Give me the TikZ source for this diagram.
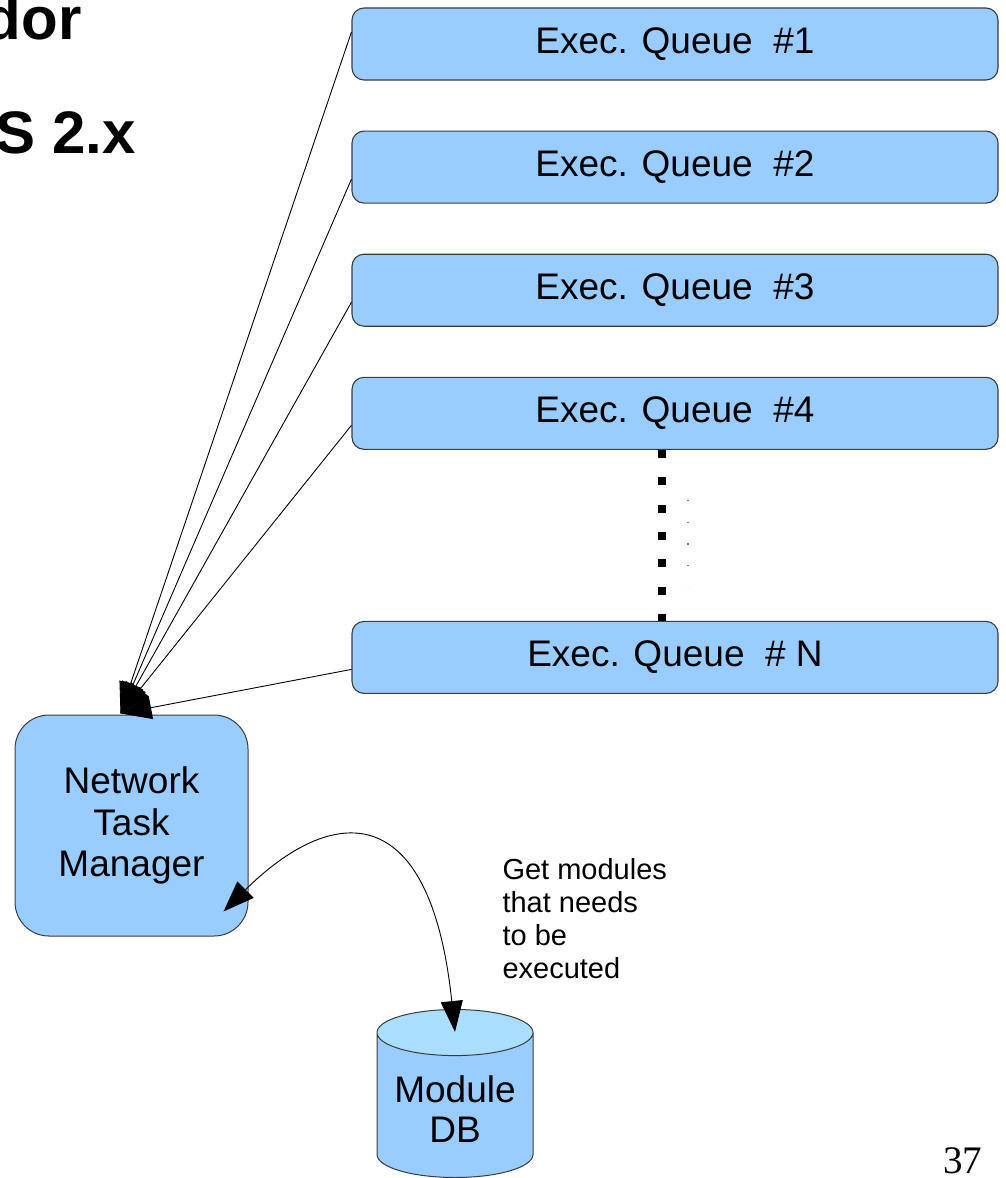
\documentclass[tikz,border=0pt]{standalone}
\usepackage{fontspec}
\setmainfont{Liberation Sans}
\newfontfamily\slidenumfont{Liberation Serif}
\usepackage{tikz}
\usetikzlibrary{shapes.geometric, arrows.meta, positioning, calc}
\usepackage{xcolor}
\definecolor{queueblue}{RGB}{153,204,255}
\definecolor{captop}{RGB}{170,222,255}
\definecolor{edgegray}{RGB}{60,60,60}
\tikzstyle{queue} = [rectangle, draw=edgegray, fill=queueblue, line width=1.1pt, rounded corners=12pt, minimum width=646pt, minimum height=72pt, font=\fontsize{37pt}{41pt}\selectfont]
\tikzstyle{manager} = [rectangle, draw=edgegray, fill=queueblue, line width=1pt, rounded corners=34pt, minimum width=233pt, minimum height=221pt, align=center, font=\fontsize{37pt}{41.5pt}\selectfont]
\tikzstyle{store} = [cylinder, shape border rotate=90, aspect=0.36, draw=edgegray, line width=1pt, cylinder uses custom fill, cylinder body fill=queueblue, cylinder end fill=captop, minimum width=156pt, minimum height=168pt, align=center, font=\fontsize{37pt}{40pt}\selectfont]
\tikzstyle{heading} = [anchor=base east, font=\fontsize{60pt}{64pt}\selectfont\bfseries]
\tikzstyle{arrow} = [-{Triangle[length=31pt, width=23pt]}, line width=0.9pt]
\tikzstyle{bothways} = [{Triangle[length=31pt, width=23pt]}-{Triangle[length=31pt, width=22pt]}, line width=0.9pt]

\begin{document}
\begin{tikzpicture}[x=1pt, y=-1pt]
  \useasboundingbox (0,0) rectangle (1005,1178);

  % heading, cut by the page edge
  \node[heading] (headA) at (85,39) {dor};
  \node[heading] (headB) at (139,153) {S 2.x};

  % execution queues
  \node[queue] (q1) at (675,44) {Exec. Queue\ \ \#1};
  \node[queue, below=50pt of q1] (q2) {Exec. Queue\ \ \#2};
  \node[queue, below=50pt of q2] (q3) {Exec. Queue\ \ \#3};
  \node[queue, below=50pt of q3] (q4) {Exec. Queue\ \ \#4};
  \node[queue, below=171pt of q4] (qN) {Exec. Queue\ \ \# N};

  \node[manager] (ntm) at (131.5,825.5) {Network\\Task\\Manager};
  \node[store, anchor=north] (db) at (455,1009) {Module\\DB};

  \node[anchor=north west, align=left, font=\fontsize{29pt}{33pt}\selectfont] (note) at (499,855)
    {Get modules\\that needs\\to be\\executed};

  \node[anchor=base east, font=\fontsize{39pt}{40pt}\selectfont\slidenumfont] (pnum) at (986,1173) {37};

  \coordinate (hub) at ($(ntm.north)+(-11,-1)$);

  % queues reporting to the manager
  \draw[arrow] ($(q1.west)+(0,-12)$) -- (hub);
  \foreach \q in {q2,q3,q4,qN}
    \draw[arrow] ($(\q.west)+(0,12)$) -- (hub);

  % gap between queue 4 and queue N
  \draw[line width=8pt, dash pattern=on 8pt off 19.33pt] ($(q4.south)+(-13,0)$) -- ($(qN.north)+(-13,0)$);
  \draw[line width=1.2pt, gray, dash pattern=on 1.2pt off 20.55pt] ($(q4.south)+(13,50)$) -- ($(qN.north)+(13,-34)$);

  % lookup in the module database
  \draw[bothways] ($(ntm.south east)+(-25,-25)$) .. controls +(107,-106) and +(-25,-238) .. ($(db.north)+(0,23)$);
\end{tikzpicture}
\end{document}
